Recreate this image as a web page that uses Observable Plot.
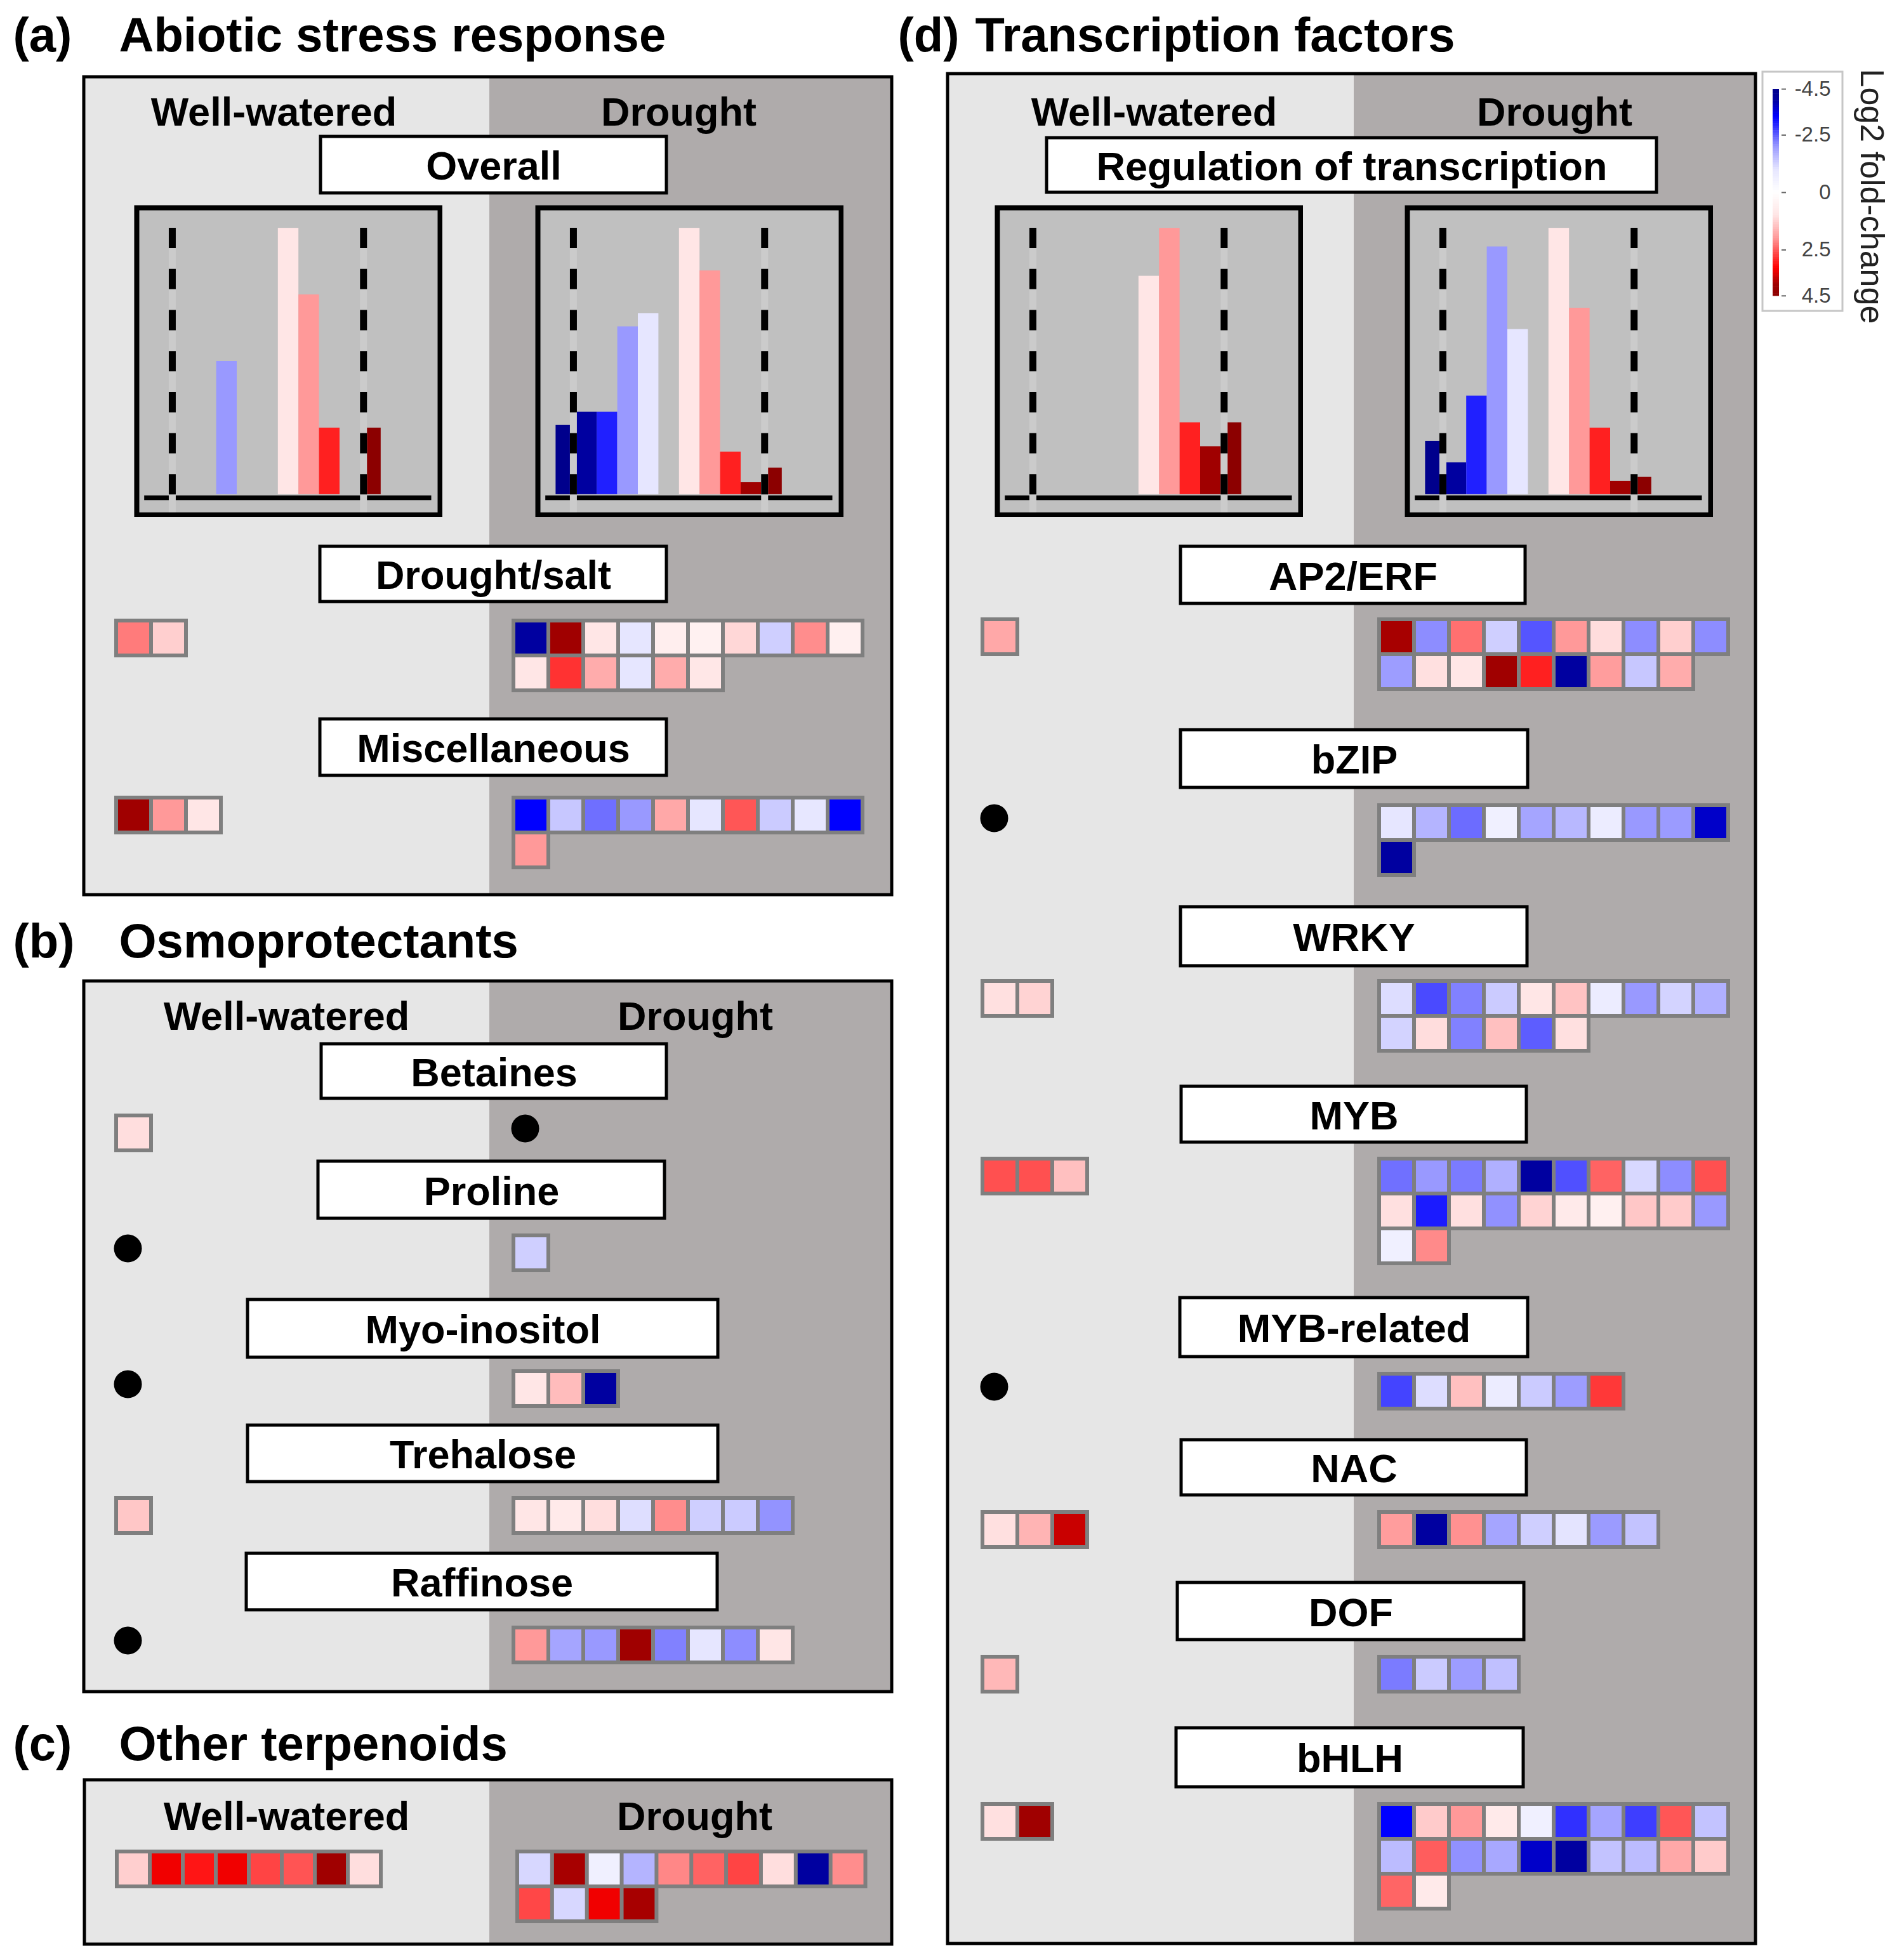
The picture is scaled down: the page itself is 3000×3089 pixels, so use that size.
<!DOCTYPE html>
<html>
<head>
<meta charset="utf-8">
<script src="https://cdn.jsdelivr.net/npm/d3@7"></script>
<script src="https://cdn.jsdelivr.net/npm/@observablehq/plot@0.6"></script>
<style>
html, body { margin: 0; padding: 0; background: #fff; }
#page { position: relative; width: 3000px; height: 3089px; overflow: hidden; }
#page svg { position: absolute; }
</style>
</head>
<body>
<div id="page"></div>
<script>
// ================= DATA =================
const panelLetters = ["(a)", "(b)", "(c)", "(d)"];
const panelTitles = ["Abiotic stress response", "Osmoprotectants", "Other terpenoids", "Transcription factors"];
const conditions = ["Well-watered", "Drought"];
const overallLabels = ["Overall", "Regulation of transcription"];
const groupNames = ["Drought/salt", "Miscellaneous", "Betaines", "Proline", "Myo-inositol", "Trehalose", "Raffinose",
  "AP2/ERF", "bZIP", "WRKY", "MYB", "MYB-related", "NAC", "DOF", "bHLH"];

// histogram bins of log2 fold-change and relative bar heights (% of tallest bar)
const histBins = ["<-4.5", "-4", "-3", "-2", "-1", "0", "1", "2", "3", "4", ">4.5"];
const histAbioticWW = [0, 0, 0, 50, 0, 0, 100, 75, 25, 0, 25];
const histAbioticDR = [26, 31, 31, 63, 68, 0, 100, 84, 16, 4.5, 10];
const histTfWW = [0, 0, 0, 0, 0, 0, 82, 100, 27, 18, 27];
const histTfDR = [20, 12, 37, 93, 62, 0, 100, 70, 25, 5, 6.5];

// log2 fold-change per gene (empty list = no genes, shown as a black dot)
const ww_DroughtSalt = [2.25, 1.3];
const dr_DroughtSalt = [-4.0, 4.0, 1.0, -1.0, 0.7, 0.55, 1.2, -1.3, 2.1, 0.6, 1.0, 2.85, 1.75, -1.0, 1.75, 0.95];
const ww_Misc = [4.0, 2.0, 1.0];
const dr_Misc = [-3.3, -1.4, -2.35, -2.0, 1.8, -1.0, 2.55, -1.35, -0.95, -3.3, 2.0];
const ww_Betaines = [1.1];
const dr_Betaines = [];
const ww_Proline = [];
const dr_Proline = [-1.3];
const ww_Myo = [];
const dr_Myo = [1.0, 1.55, -4.0];
const ww_Trehalose = [1.4];
const dr_Trehalose = [1.0, 0.85, 1.1, -1.1, 2.1, -1.3, -1.35, -2.05];
const ww_Raffinose = [];
const dr_Raffinose = [2.0, -1.85, -2.0, 4.0, -2.2, -1.0, -2.1, 1.0];
const ww_Terpenoids = [1.3, 3.4, 3.1, 3.4, 2.7, 2.57, 4.0, 1.1];
const dr_Terpenoids = [-1.2, 3.95, -0.6, -1.65, 2.15, 2.45, 2.7, 1.1, -4.0, 2.1, 2.68, -1.2, 3.4, 3.95];
const ww_AP2 = [1.8];
const dr_AP2 = [3.95, -2.1, 2.34, -1.3, -2.56, 2.0, 1.12, -2.1, 1.3, -2.1, -1.95, 1.08, 1.0, 4.0, 3.0, -4.0, 1.95, -1.4, 1.75];
const ww_bZIP = [];
const dr_bZIP = [-1.0, -1.65, -2.37, -0.6, -1.85, -1.6, -0.75, -2.0, -1.97, -3.7, -4.0];
const ww_WRKY = [1.08, 1.25];
const dr_WRKY = [-1.12, -2.65, -2.2, -1.35, 1.0, 1.45, -0.75, -2.0, -1.25, -1.7, -1.25, 1.12, -2.2, 1.5, -2.5, 1.08];
const ww_MYB = [2.6, 2.6, 1.5];
const dr_MYB = [-2.34, -2.0, -2.25, -1.7, -4.0, -2.6, 2.45, -1.18, -2.1, 2.6,
  1.08, -3.05, 1.08, -2.07, 1.25, 0.85, 0.6, 1.4, 1.35, -2.0, -0.6, 2.12];
const ww_MYBrel = [];
const dr_MYBrel = [-2.7, -1.12, 1.5, -0.75, -1.35, -1.95, 2.8];
const ww_NAC = [1.08, 1.65, 3.7];
const dr_NAC = [1.95, -4.0, 2.07, -1.85, -1.3, -1.03, -1.98, -1.45];
const ww_DOF = [1.6];
const dr_DOF = [-2.25, -1.35, -1.95, -1.5];
const ww_bHLH = [1.08, 4.0];
const dr_bHLH = [-3.3, 1.35, 2.0, 0.85, -0.6, -2.87, -1.85, -2.75, 2.55, -1.45,
  -1.55, 2.5, -2.07, -1.8, -3.7, -4.0, -1.45, -1.55, 1.8, 1.35, 2.43, 0.85];

const legendTicks = [-4.5, -2.5, 0, 2.5, 4.5];
const legendTitle = "Log2 fold-change";

// ================= STYLE / LAYOUT =================
const W = 3000, H = 3089;
const FONT = "'Liberation Sans', Arial, Helvetica, sans-serif";
const PITCH = 55;

const fcKnots = [-4.5, -4, -3.3, -3, -2, -1, 0, 1, 2, 3, 3.3, 4, 4.5];
const fcColors = ["#00008c", "#0000a0", "#0000ff", "#2020ff", "#9999ff", "#e6e6ff", "#ffffff",
  "#ffe6e6", "#ff9999", "#ff2020", "#ff0000", "#a00000", "#8c0000"];
const fcRamp = d3.scaleLinear().domain(fcKnots).range(fcColors).interpolate(d3.interpolateRgb).clamp(true);
const colorOpts = {type: "linear", domain: [-4.5, 4.5], interpolate: t => fcRamp(-4.5 + 9 * t), clamp: true};

const panelL = [
  {i: 0, x1: 132, x2: 1405, y1: 121, y2: 1410, div: 771, letterX: 20, titleX: 187, titleY: 80, wwX: 431, drX: 1069, labelY: 197},
  {i: 1, x1: 132, x2: 1405, y1: 1546, y2: 2666, div: 771, letterX: 20, titleX: 187, titleY: 1508, wwX: 451, drX: 1095, labelY: 1622},
  {i: 2, x1: 133, x2: 1405, y1: 2805, y2: 3064, div: 771, letterX: 20, titleX: 187, titleY: 2773, wwX: 451, drX: 1094, labelY: 2883},
  {i: 3, x1: 1493, x2: 2766, y1: 116, y2: 3063, div: 2133, letterX: 1414, titleX: 1536, titleY: 80, wwX: 1818, drX: 2449, labelY: 197}
];

const headerBoxes = [
  {label: overallLabels[0], x1: 505, x2: 1050, y1: 215, y2: 304},
  {label: overallLabels[1], x1: 1649, x2: 2610, y1: 217, y2: 303}
];

const groupLayout = [
  {name: groupNames[0], ww: ww_DroughtSalt, dr: dr_DroughtSalt, box: [504, 1050, 861, 948], y0: 975, wx: 180, dx: 806},
  {name: groupNames[1], ww: ww_Misc, dr: dr_Misc, box: [504, 1050, 1133, 1222], y0: 1254, wx: 180, dx: 806},
  {name: groupNames[2], ww: ww_Betaines, dr: dr_Betaines, box: [506, 1050, 1645, 1731], y0: 1755, wx: 180, dx: 806},
  {name: groupNames[3], ww: ww_Proline, dr: dr_Proline, box: [501, 1047, 1830, 1920], y0: 1944, wx: 180, dx: 806},
  {name: groupNames[4], ww: ww_Myo, dr: dr_Myo, box: [390, 1131, 2048, 2139], y0: 2158, wx: 180, dx: 806},
  {name: groupNames[5], ww: ww_Trehalose, dr: dr_Trehalose, box: [390, 1131, 2246, 2335], y0: 2358, wx: 180, dx: 806},
  {name: groupNames[6], ww: ww_Raffinose, dr: dr_Raffinose, box: [388, 1130, 2448, 2537], y0: 2562, wx: 180, dx: 806},
  {name: panelTitles[2], ww: ww_Terpenoids, dr: dr_Terpenoids, box: null, y0: 2915, wx: 181, dx: 812, wp: 52, dp: 54.85},
  {name: groupNames[7], ww: ww_AP2, dr: dr_AP2, box: [1860, 2403, 861, 951], y0: 973, wx: 1545, dx: 2170},
  {name: groupNames[8], ww: ww_bZIP, dr: dr_bZIP, box: [1860, 2407, 1150, 1241], y0: 1266, wx: 1545, dx: 2170},
  {name: groupNames[9], ww: ww_WRKY, dr: dr_WRKY, box: [1860, 2406, 1429, 1522], y0: 1543, wx: 1545, dx: 2170},
  {name: groupNames[10], ww: ww_MYB, dr: dr_MYB, box: [1861, 2405, 1712, 1800], y0: 1823, wx: 1545, dx: 2170},
  {name: groupNames[11], ww: ww_MYBrel, dr: dr_MYBrel, box: [1859, 2407, 2045, 2138], y0: 2162, wx: 1545, dx: 2170},
  {name: groupNames[12], ww: ww_NAC, dr: dr_NAC, box: [1861, 2405, 2269, 2356], y0: 2380, wx: 1545, dx: 2170},
  {name: groupNames[13], ww: ww_DOF, dr: dr_DOF, box: [1855, 2401, 2494, 2584], y0: 2608, wx: 1545, dx: 2170},
  {name: groupNames[14], ww: ww_bHLH, dr: dr_bHLH, box: [1853, 2400, 2723, 2816], y0: 2840, wx: 1545, dx: 2170}
];

const histLayout = [
  {vals: histAbioticWW, left: 211, top: 323},
  {vals: histAbioticDR, left: 843, top: 323},
  {vals: histTfWW, left: 1567, top: 323},
  {vals: histTfDR, left: 2213, top: 323}
];

// ================= BUILD TABLES =================
const boxes = headerBoxes.concat(groupLayout.filter(g => g.box).map(g => ({
  label: g.name, x1: g.box[0], x2: g.box[1], y1: g.box[2], y2: g.box[3]
})));

const cells = [], dots = [];
for (const g of groupLayout) {
  const sides = [[conditions[0], g.ww, g.wx, g.wp || PITCH], [conditions[1], g.dr, g.dx, g.dp || PITCH]];
  for (const [cond, vals, x0, p] of sides) {
    if (vals.length === 0) dots.push({group: g.name, condition: cond, x: x0 + 21, y: g.y0 + 23});
    vals.forEach((v, i) => cells.push({
      group: g.name, condition: cond, fc: v, p,
      x: x0 + (i % 10) * p, y: g.y0 + Math.floor(i / 10) * PITCH
    }));
  }
}

// legend geometry
const ly = v => 140 + (v + 4.5) * 36.2;
const rampSteps = d3.range(90).map(i => {
  const v0 = -4.5 + i * 0.1;
  return {fc: v0 + 0.05, y1: ly(v0), y2: ly(v0 + 0.1) + 0.6};
});

// ================= BASE PLOT =================
const page = document.getElementById("page");

const base = Plot.plot({
  width: W, height: H, margin: 0,
  x: {type: "linear", domain: [0, W], range: [0, W], axis: null},
  y: {type: "linear", domain: [0, H], range: [0, H], axis: null},
  color: colorOpts,
  style: {fontFamily: FONT, background: "white", overflow: "visible"},
  marks: [
    // panel backgrounds
    Plot.rect(panelL, {x1: "x1", x2: "div", y1: "y1", y2: "y2", fill: "#e6e6e6"}),
    Plot.rect(panelL, {x1: "div", x2: "x2", y1: "y1", y2: "y2", fill: "#afabab"}),
    Plot.rect(panelL, {x1: "x1", x2: "x2", y1: "y1", y2: "y2", fill: "none", stroke: "black", strokeWidth: 5}),
    // panel titles
    Plot.text(panelL, {x: "letterX", y: "titleY", text: d => panelLetters[d.i], textAnchor: "start", lineAnchor: "bottom",
      fontSize: 76, fontWeight: "bold", fill: "black", fontFamily: FONT}),
    Plot.text(panelL, {x: "titleX", y: "titleY", text: d => panelTitles[d.i], textAnchor: "start", lineAnchor: "bottom",
      fontSize: 76, fontWeight: "bold", fill: "black", fontFamily: FONT}),
    // condition labels
    Plot.text(panelL, {x: "wwX", y: "labelY", text: () => conditions[0], textAnchor: "middle", lineAnchor: "bottom",
      fontSize: 63, fontWeight: "bold", fill: "black", fontFamily: FONT}),
    Plot.text(panelL, {x: "drX", y: "labelY", text: () => conditions[1], textAnchor: "middle", lineAnchor: "bottom",
      fontSize: 63, fontWeight: "bold", fill: "black", fontFamily: FONT}),
    // category boxes
    Plot.rect(boxes, {x1: "x1", x2: "x2", y1: "y1", y2: "y2", fill: "white", stroke: "black", strokeWidth: 5}),
    Plot.text(boxes, {x: d => (d.x1 + d.x2) / 2, y: d => (d.y1 + d.y2) / 2 + 23, text: "label", textAnchor: "middle",
      lineAnchor: "bottom", fontSize: 63, fontWeight: "bold", fill: "black", fontFamily: FONT}),
    // heatmap cells
    Plot.rect(cells, {x1: "x", x2: d => d.x + d.p + 6, y1: "y", y2: d => d.y + PITCH + 6, fill: "#7f7f7f"}),
    Plot.rect(cells, {x1: d => d.x + 6, x2: d => d.x + d.p, y1: d => d.y + 6, y2: d => d.y + PITCH, fill: "fc"}),
    // no-gene markers
    Plot.dot(dots, {x: "x", y: "y", r: 22, fill: "black", stroke: null}),
    // legend
    Plot.rect([0], {x1: 2777, x2: 2903, y1: 113, y2: 490, fill: "white", stroke: "#c6c6c6", strokeWidth: 3}),
    Plot.rect(rampSteps, {x1: 2793, x2: 2803, y1: "y1", y2: "y2", fill: "fc"}),
    Plot.ruleY(legendTicks, {y: d => ly(d), x1: 2807, x2: 2814, stroke: "#666", strokeWidth: 2}),
    Plot.text(legendTicks, {x: 2884, y: d => ly(d), text: d => String(d), textAnchor: "end", lineAnchor: "middle",
      fontSize: 33, fill: "#444", fontFamily: FONT}),
    Plot.text([legendTitle], {x: 2948, y: 108, text: d => d, rotate: 90, textAnchor: "start", lineAnchor: "middle",
      fontSize: 52, fill: "#222", fontFamily: FONT})
  ]
});
base.style.left = "0px";
base.style.top = "0px";
page.appendChild(base);

// ================= HISTOGRAMS =================
function histPlot(vals) {
  const bars = histBins.map((b, i) => {
    let x1, x2, fc;
    if (b === "<-4.5") { x1 = -5.5; x2 = -4.8; fc = -4.5; }
    else if (b === ">4.5") { x1 = 4.8; x2 = 5.5; fc = 4.5; }
    else { const k = +b; x1 = k - 0.5; x2 = k + 0.5; fc = k; }
    return {bin: b, x1, x2, fc, value: vals[i]};
  }).filter(d => d.value > 0);
  return Plot.plot({
    width: 486, height: 492, margin: 0,
    x: {type: "linear", domain: [-6.5, 8.5], axis: null},
    y: {type: "linear", domain: [-8.6, 108.6], axis: null},
    color: colorOpts,
    style: {background: "transparent"},
    marks: [
      Plot.frame({fill: "#c0c0c0", stroke: null}),
      Plot.rectY(bars, {x1: "x1", x2: "x2", y: "value", fill: "fc"}),
      Plot.ruleY([-1.2], {x1: -6, x2: 7.96, stroke: "black", strokeWidth: 7.5}),
      Plot.ruleX([-4.65, 4.65], {y1: 100, y2: -7.4, stroke: "#cbcbcb", strokeWidth: 11}),
      Plot.ruleX([-4.65, 4.65], {y1: 100, y2: -7.4, stroke: "black", strokeWidth: 11, strokeDasharray: "32,32.7"}),
      Plot.frame({stroke: "black", strokeWidth: 8, inset: 4})
    ]
  });
}
for (const h of histLayout) {
  const svg = histPlot(h.vals);
  svg.style.left = h.left + "px";
  svg.style.top = h.top + "px";
  page.appendChild(svg);
}
</script>
</body>
</html>
